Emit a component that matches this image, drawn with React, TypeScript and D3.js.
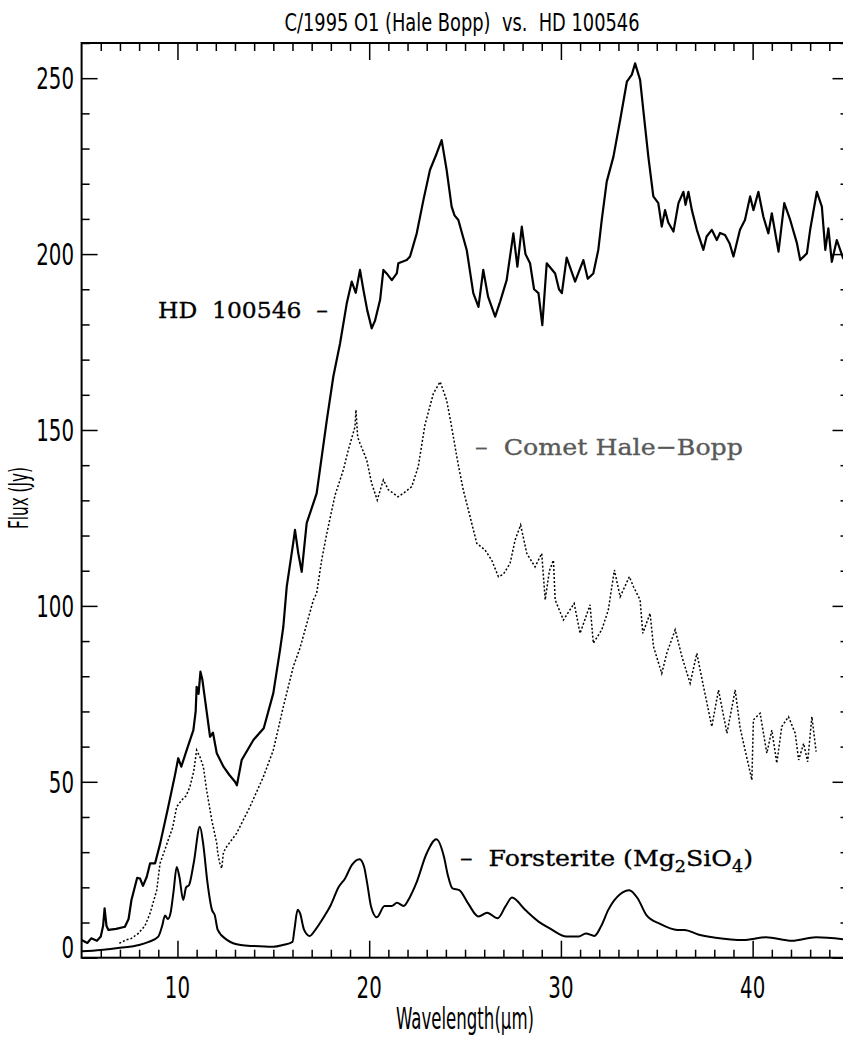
import * as d3 from "d3"
import { useRef, useEffect } from "react"

// spectra: [wavelength (um), flux (Jy)]
const hd100546: [number, number][] = [
  [5.0, 5.0], [5.3, 4.2], [5.5, 5.5], [5.8, 4.8], [6.0, 6.0], [6.12, 9], [6.2, 14], [6.3, 9], [6.4, 7.9],
  [6.8, 8.2], [7.26, 8.8], [7.45, 11], [7.6, 16.4], [7.9, 22.7], [8.05, 22.5], [8.2, 20.4], [8.4, 23],
  [8.57, 26.8], [8.83, 26.8], [9.1, 32.5], [9.52, 42.9], [9.87, 51.9], [10.04, 56.7], [10.2, 54.3],
  [10.48, 59], [10.83, 64.7], [10.95, 70], [11.0, 77], [11.1, 75], [11.2, 81.3], [11.3, 79], [11.44, 73.3],
  [11.7, 62.8], [11.85, 64], [12.05, 58.1], [12.4, 54.3], [12.7, 52], [13.0, 50], [13.1, 49], [13.35, 56.2],
  [13.96, 61.9], [14.5, 65.2], [15.0, 75.2], [15.35, 87.5], [15.52, 94], [15.7, 105.5], [16.04, 118],
  [16.13, 121.6], [16.3, 115], [16.48, 109.7], [16.74, 123.5], [17.26, 132], [17.79, 152.8], [18.13, 165.2],
  [18.48, 174.6], [18.83, 186], [19.09, 192.2], [19.3, 189], [19.52, 195.5], [19.7, 189.8], [19.9, 184],
  [20.13, 178.9], [20.3, 181], [20.57, 187], [20.74, 195.5], [20.91, 194.5], [21.18, 192.6], [21.44, 194.5],
  [21.52, 197.4], [21.96, 198.3], [22.13, 199.3], [22.48, 205.9], [22.83, 215.4], [23.17, 223.9],
  [23.52, 228.6], [23.78, 232.4], [24.04, 223.9], [24.3, 213.5], [24.45, 211], [24.65, 209.7], [25.09, 201.1],
  [25.43, 188.9], [25.7, 185], [25.95, 195.5], [26.2, 187.9], [26.57, 182.2], [26.83, 186.5], [27.17, 192.6],
  [27.52, 205.9], [27.73, 196.4], [27.96, 207.8], [28.15, 200], [28.39, 197.4], [28.6, 190], [28.83, 188.9],
  [29.03, 179.8], [29.26, 197.4], [29.7, 194.5], [29.9, 190], [30.05, 188.9], [30.3, 199], [30.74, 192.2],
  [31.17, 198.3], [31.4, 193], [31.69, 194.5], [31.95, 201.2], [32.13, 209.7], [32.39, 220.6], [32.74, 227.7],
  [33.09, 238.1], [33.44, 249], [33.7, 251], [33.87, 254.2], [34.13, 249.5], [34.39, 236.2], [34.56, 227.7],
  [34.82, 216.4], [35.08, 214.5], [35.26, 207.8], [35.43, 212.5], [35.6, 209], [35.87, 206.4], [36.13, 214.5],
  [36.39, 217.7], [36.5, 214], [36.65, 217.7], [36.83, 212.5], [37.09, 206.9], [37.43, 201.2], [37.6, 205],
  [37.87, 206.9], [38.13, 204], [38.3, 206], [38.56, 205.4], [38.8, 203], [39.0, 199.3], [39.34, 206.9],
  [39.6, 209.7], [39.87, 216.4], [40.04, 212.5], [40.3, 217.7], [40.56, 210.6], [40.82, 205.9], [41.0, 211.6],
  [41.35, 200.7], [41.65, 214.5], [41.96, 209.7], [42.31, 203.1], [42.48, 198.3], [42.83, 200.2], [43.0, 206.9],
  [43.35, 217.7], [43.61, 213.5], [43.79, 201.2], [43.95, 207.3], [44.13, 197.8], [44.39, 204], [44.72, 198.8],
  [45.0, 201],
]

const haleBopp: [number, number][] = [
  [6.97, 4.1], [7.3, 5], [7.6, 5.5], [7.96, 6.9], [8.3, 9], [8.57, 12.6], [8.92, 19.2], [9.09, 26.8], [9.3, 30],
  [9.52, 33.5], [9.75, 37], [9.96, 42.9], [10.22, 44.8], [10.45, 46], [10.65, 48.6], [10.85, 53], [11.0, 59],
  [11.17, 57.1], [11.35, 54.3], [11.52, 47.7], [11.79, 39.1], [12.05, 32.5], [12.1, 29.8], [12.2, 27],
  [12.31, 25.4], [12.4, 30], [12.57, 31.6], [13.09, 35.4], [13.78, 42.9], [14.48, 51.4], [15.0, 59],
  [15.52, 71.3], [16.04, 82.7], [16.39, 88], [17.09, 101.7], [17.26, 103.6], [17.52, 113], [17.79, 120.6],
  [18.22, 131.5], [18.65, 138.6], [18.91, 144.3], [19.26, 150.9], [19.31, 155.7], [19.4, 148], [19.52, 146.2],
  [19.87, 141.5], [20.13, 134.8], [20.42, 130.1], [20.74, 135.8], [21.0, 133], [21.26, 132], [21.5, 131],
  [21.78, 132], [22.22, 133.9], [22.56, 139.6], [22.91, 151.5], [23.35, 160.4], [23.7, 163.7], [24.04, 158.5],
  [24.3, 150.9], [24.57, 142.4], [24.7, 138.6], [24.91, 132.9], [25.26, 125.4], [25.61, 117.8], [26.04, 115.9],
  [26.39, 113], [26.74, 108.3], [27.0, 109], [27.35, 112.1], [27.61, 118.7], [27.9, 123], [28.22, 114.9],
  [28.65, 111.1], [29.0, 114.9], [29.18, 101.7], [29.4, 110], [29.61, 113], [29.7, 101.7], [30.13, 96],
  [30.69, 100.7], [31.0, 92.2], [31.52, 100.3], [31.69, 89.4], [32.13, 93.2], [32.47, 98.8], [32.79, 110.2],
  [33.09, 102.6], [33.57, 108.3], [33.78, 105.5], [34.13, 101.7], [34.27, 92.2], [34.65, 97.9], [34.83, 88.4],
  [35.26, 80.8], [35.52, 86.5], [35.96, 93.2], [36.31, 85.6], [36.74, 78], [37.09, 86.5], [37.44, 77],
  [37.87, 65.7], [38.22, 76.1], [38.66, 63.8], [39.09, 76.1], [39.35, 65.2], [39.96, 50.5], [40.04, 67.6],
  [40.39, 69.5], [40.74, 58.1], [41.0, 64.7], [41.26, 55.3], [41.52, 65.7], [41.87, 68.5], [42.22, 63.8],
  [42.4, 56.2], [42.66, 60.9], [42.87, 55.7], [43.09, 68.5], [43.31, 58.6],
]

const forsterite: [number, number][] = [
  [5, 1.8], [6, 2.2], [7, 2.8], [8, 3.6], [8.5, 4.5], [9, 6], [9.2, 9], [9.35, 12], [9.5, 11], [9.65, 13],
  [9.8, 19], [9.96, 25.8], [10.1, 23], [10.3, 16.4], [10.45, 20], [10.6, 20.6], [10.85, 27], [11.17, 37.2],
  [11.35, 32], [11.55, 22], [11.8, 13.6], [11.95, 12], [12.1, 7.9], [12.6, 5], [13.3, 3.6], [14, 3.3], [15, 3.1],
  [15.5, 3.6], [16, 4.5], [16.1, 8], [16.27, 13.6], [16.4, 12.5], [16.6, 8], [16.9, 6.2], [17.2, 8],
  [17.65, 11.7], [18, 15], [18.4, 20], [18.75, 22.6], [19.1, 26.4], [19.5, 28], [19.73, 25.9], [19.9, 21],
  [20.1, 14.5], [20.4, 11.5], [20.8, 14.7], [21.17, 14.7], [21.45, 15.6], [21.8, 14.7], [22.1, 17],
  [22.45, 21.1], [23, 29.7], [23.5, 33.7], [23.9, 28.7], [24.1, 23.5], [24.34, 19.7], [24.7, 19.2],
  [25.15, 15.5], [25.7, 11.7], [26.15, 12.8], [26.7, 11.2], [27.1, 14.5], [27.45, 17.1], [28.13, 13.6],
  [28.85, 10.2], [29.4, 8.4], [30.3, 6], [30.93, 6], [31.3, 6.9], [31.75, 6.2], [32.1, 9], [32.47, 13.6],
  [33.1, 18.1], [33.56, 19.2], [34, 16.9], [34.46, 12.1], [35.17, 9.6], [36.08, 7.9], [36.44, 7.9],
  [37.16, 6.6], [38.07, 5.7], [39.5, 5], [40.69, 5.8], [42.05, 4.8], [43.3, 5.8], [45, 5.1],
]

const xMajor = [10, 20, 30, 40]
const xMinor = d3.range(6, 45).filter((v) => v % 10 !== 0)
const yMajor = [0, 50, 100, 150, 200, 250]
const yMinor = d3.range(10, 261, 10).filter((v) => v % 50 !== 0)

const title = "C/1995 O1 (Hale Bopp)  vs.  HD 100546"

const narrow = "'Liberation Sans Narrow', 'DejaVu Sans Condensed', 'Arial Narrow', sans-serif"
const serif = "'DejaVu Serif', 'Liberation Serif', serif"

export default function App() {
  const width = 843
  const height = 1041
  const left = 81.6
  const right = 848.5
  const top = 43
  const bottom = 957.7

  const x = d3.scaleLinear([5, 45], [left, right])
  const y = d3.scaleLinear([0, 260], [bottom, top])

  const line = d3
    .line<[number, number]>()
    .x((d) => x(d[0]))
    .y((d) => y(d[1]))
  const smooth = line.curve(d3.curveMonotoneX)

  const gAxes = useRef<SVGGElement>(null)

  useEffect(() => {
    if (!gAxes.current) return
    const g = d3.select(gAxes.current)
    g.selectAll("*").remove()
    const add = (axis: d3.Axis<d3.NumberValue>, tf: string) => {
      g.append("g")
        .attr("transform", tf)
        .call(axis.tickSizeOuter(0).tickFormat(() => ""))
        .call((s) => s.select(".domain").remove())
        .call((s) => s.selectAll("line").attr("stroke", "#000").attr("stroke-width", 1.5))
    }
    add(d3.axisBottom(x).tickValues(xMajor).tickSizeInner(-17), `translate(0,${bottom})`)
    add(d3.axisBottom(x).tickValues(xMinor).tickSizeInner(-8), `translate(0,${bottom})`)
    add(d3.axisTop(x).tickValues(xMajor).tickSizeInner(-17), `translate(0,${top})`)
    add(d3.axisTop(x).tickValues(xMinor).tickSizeInner(-8), `translate(0,${top})`)
    add(d3.axisLeft(y).tickValues(yMajor).tickSizeInner(-16), `translate(${left},0)`)
    add(d3.axisLeft(y).tickValues(yMinor).tickSizeInner(-8), `translate(${left},0)`)
    add(d3.axisRight(y).tickValues(yMajor).tickSizeInner(-16), `translate(${right},0)`)
    add(d3.axisRight(y).tickValues(yMinor).tickSizeInner(-8), `translate(${right},0)`)
  }, [x, y])

  return (
    <div style={{ position: "absolute", left: 0, top: 0, width, height, overflow: "hidden", background: "#fff" }}>
      <svg width={width} height={height} style={{ display: "block" }}>
        <rect x={0} y={0} width={width} height={height} fill="#fff" />

        <path d={smooth(forsterite) ?? undefined} fill="none" stroke="#000" strokeWidth={2} />
        <path d={line.curve(d3.curveLinear)(haleBopp) ?? undefined} fill="none" stroke="#000"
          strokeWidth={1.5} strokeDasharray="2 2" />
        <path d={line.curve(d3.curveLinear)(hd100546) ?? undefined} fill="none" stroke="#000"
          strokeWidth={2.2} strokeLinejoin="round" />

        <g ref={gAxes} />
        <rect x={left} y={top} width={right - left} height={bottom - top} fill="none" stroke="#000" strokeWidth={2} />

        {/* tick labels */}
        <g fontFamily={narrow} fontSize={22} fill="#000">
          {yMajor.map((v) => (
            <text key={"y" + v} textAnchor="end"
              transform={`translate(74,${Math.min(y(v) + 11, 958)}) scale(1,1.33)`}>{v}</text>
          ))}
          {xMajor.map((v) => (
            <text key={"x" + v} textAnchor="middle"
              transform={`translate(${x(v)},998) scale(1,1.33)`}>{v}</text>
          ))}
          <text textAnchor="middle" textLength={138} lengthAdjust="spacingAndGlyphs"
            transform={`translate(${(left + right) / 2},1029) scale(1,1.33)`}>Wavelength(μm)</text>
          <text textAnchor="middle" textLength={62} lengthAdjust="spacingAndGlyphs"
            transform="translate(28,498) rotate(-90) scale(1,1.2)">Flux (Jy)</text>
          <text textAnchor="middle" textLength={355} lengthAdjust="spacingAndGlyphs"
            style={{ whiteSpace: "pre" }}
            transform="translate(462,30.5) scale(1,1.12)">{title}</text>
        </g>

        {/* annotations */}
        <g fontFamily={serif} fontSize={23} strokeWidth={0.35}>
          <text x={158} y={318} fill="#000" stroke="#000" textLength={170} lengthAdjust="spacingAndGlyphs"
            style={{ whiteSpace: "pre" }}>
            HD  100546  –
          </text>
          <text x={475} y={455} fill="#595959" stroke="#595959" textLength={268} lengthAdjust="spacingAndGlyphs"
            style={{ whiteSpace: "pre" }}>
            –  Comet Hale−Bopp
          </text>
          <text x={460} y={866} fill="#000" stroke="#000" textLength={293} lengthAdjust="spacingAndGlyphs"
            style={{ whiteSpace: "pre" }}>
            –  Forsterite (Mg<tspan dy={6} fontSize={16}>2</tspan><tspan dy={-6}>SiO</tspan>
            <tspan dy={6} fontSize={16}>4</tspan><tspan dy={-6}>)</tspan>
          </text>
        </g>
      </svg>
    </div>
  )
}
